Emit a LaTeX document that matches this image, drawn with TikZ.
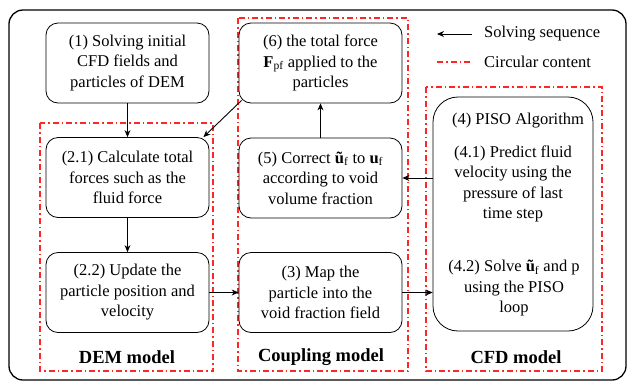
\documentclass[tikz,border=0pt]{standalone}
\usepackage{fontspec}
\setmainfont{Liberation Serif}
\usetikzlibrary{arrows.meta}

\begin{document}
\begin{tikzpicture}
		[x=1pt,y=-1pt,
		 procbox/.style={draw,line width=0.8pt,rounded corners=12pt,minimum width=163pt,minimum height=80pt,inner sep=0pt,align=center,font=\fontsize{16.5}{20.5}\selectfont},
		 txt/.style={align=center,inner sep=0pt,font=\fontsize{16.5}{20.5}\selectfont},
		 zone/.style={red!85!white,line width=1.1pt,dash pattern=on 6pt off 3pt on 1.5pt off 3pt},
		 flow/.style={-{Stealth[length=7pt,width=6pt]},line width=0.9pt},
		 title/.style={font=\fontsize{18.5}{22}\selectfont\bfseries,inner sep=0pt}]
		\useasboundingbox (0,0) rectangle (628,381);
		\draw[line width=1.3pt,rounded corners=14pt] (9,10) rectangle (626,380);

		% model zones
		\draw[zone] (40,123) rectangle (213,371);
		\draw[zone] (238,18) rectangle (408,371);
		\draw[zone] (426,87) rectangle (602,371);

		\node[procbox] (n1) at (127.5,63) {(1) Solving initial\\CFD fields and\\particles of DEM};
		\node[procbox] (n6) at (320.5,63) {(6) the total force\\\textbf{F}\textsubscript{pf} applied to the\\particles};
		\node[procbox] (n21) at (127.5,177.5) {(2.1) Calculate total\\forces such as the\\fluid force};
		\node[procbox] (n5) at (320.5,178) {(5) Correct \textbf{ũ}\textsubscript{f} to \textbf{u}\textsubscript{f}\\according to void\\volume fraction};
		\node[procbox] (n22) at (127.5,292.5) {(2.2) Update the\\particle position and\\velocity};
		\node[procbox] (n3) at (320.5,292.5) {(3) Map the\\particle into the\\void fraction field};
		\node[procbox,minimum width=160pt,minimum height=234pt,rounded corners=25pt] (n4) at (513,214) {};
		\node[txt] (n4t) at (518,121) {(4) PISO Algorithm};
		\node[txt] (n41) at (513,184) {(4.1) Predict fluid\\velocity using the\\pressure of last\\time step};
		\node[txt] (n42) at (514,288.5) {(4.2) Solve \textbf{ũ}\textsubscript{f} and p\\using the PISO\\loop};

		\node[title] (dem) at (127,357) {DEM model};
		\node[title] (cpl) at (321,357) {Coupling model};
		\node[title] (cfd) at (516,357) {CFD model};

		% legend
		\coordinate (la) at (472,34);
		\coordinate (lb) at (437,34);
		\coordinate (lc) at (437,62);
		\coordinate (ld) at (472,62);
		\draw[flow] (la) -- (lb);
		\draw[zone] (lc) -- (ld);
		\node[txt,anchor=west] (lsq) at (484,34) {Solving sequence};
		\node[txt,anchor=west] (lcc) at (484,62) {Circular content};

		\draw[flow] (n1) -- (n21);
		\draw[flow] ([xshift=3pt,yshift=3pt]n6.south west) -- ([xshift=-6pt]n21.north east);
		\draw[flow] (n21) -- (n22);
		\draw[flow] (n22) -- (n3);
		\draw[flow] (n3.east) -- (n3.east -| n4.west);
		\draw[flow] (n5.east -| n4.west) -- (n5.east);
		\draw[flow] (n5) -- (n6);

	\end{tikzpicture}
\end{document}
